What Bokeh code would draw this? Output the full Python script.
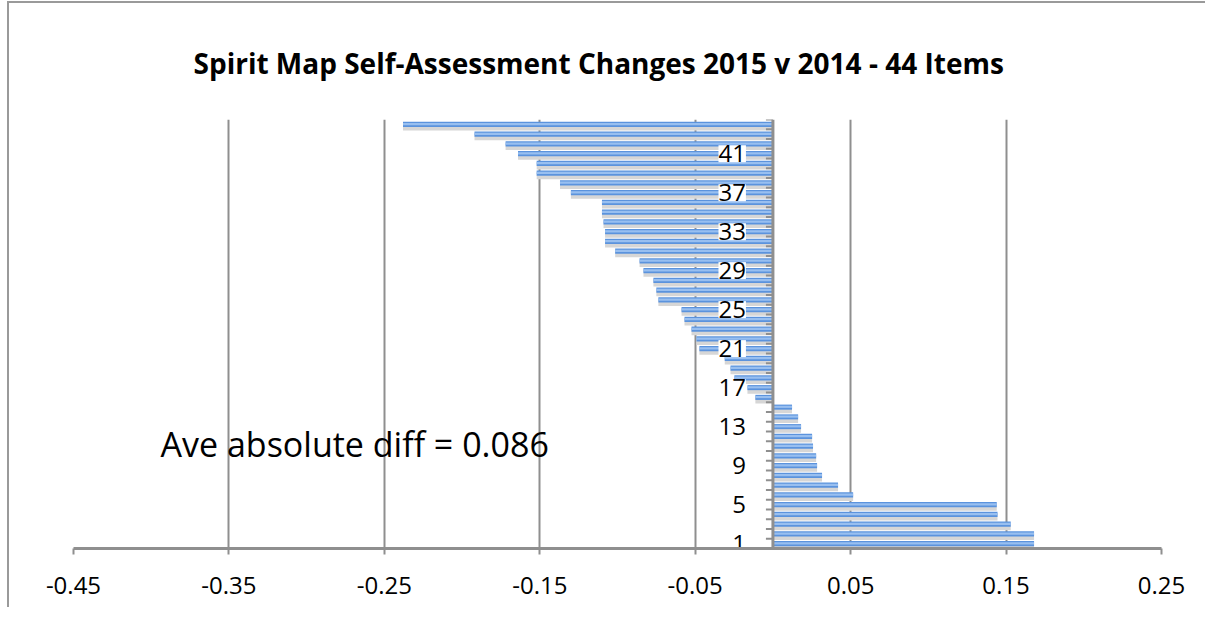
from bokeh.plotting import figure
from bokeh.models import Range1d, FixedTicker, NumeralTickFormatter, Span, Label, ColumnDataSource
from bokeh.transform import dodge
from bokeh.core.properties import value
from bokeh.embed import file_html
from bokeh.resources import INLINE

# ---- data ----
items = list(range(1, 45))
changes = [0.168, 0.168, 0.153, 0.1445, 0.144, 0.0516, 0.0419, 0.0316, 0.0284, 0.0278,
           0.0258, 0.0252, 0.0181, 0.0162, 0.0123, -0.0113, -0.0164, -0.0248, -0.0273, -0.031,
           -0.0473, -0.0492, -0.0524, -0.0569, -0.0588, -0.0737, -0.0750, -0.0769, -0.0833, -0.0858,
           -0.1015, -0.108, -0.108, -0.109, -0.110, -0.110, -0.130, -0.137, -0.152, -0.152,
           -0.164, -0.172, -0.192, -0.238]
x_ticks = [-0.45, -0.35, -0.25, -0.15, -0.05, 0.05, 0.15, 0.25]
y_label_items = [1, 5, 9, 13, 17, 21, 25, 29, 33, 37, 41]
title_text = "Spirit Map Self-Assessment Changes  2015 v 2014 - 44 Items"
note_text = "Ave absolute diff = 0.086"

X_MIN, X_MAX = x_ticks[0], x_ticks[-1]
FONT = "Open Sans"
GREY = "#8f8f8f"

W, H = 1198, 606
BL, BR, BT, BB = 64, 46, 115, 61
frame_w = W - BL - BR

p = figure(width=W, height=H, output_backend="svg", toolbar_location=None,
           x_range=Range1d(X_MIN, X_MAX), y_range=Range1d(items[0] - 0.5, items[-1] + 0.5),
           y_axis_location=None, min_border_left=BL, min_border_right=BR,
           min_border_top=BT, min_border_bottom=BB, outline_line_color=None,
           background_fill_color="white", border_fill_color="white")
p.styles = {"position": "absolute", "left": "7px", "top": "1px",
            "border-left": "2px solid #9a9a9a", "border-top": "2px solid #9a9a9a",
            "border-right": "0px none", "border-bottom": "0px none"}

p.title.text = title_text
p.title.text_font = FONT
p.title.text_font_size = "28px"
p.title.text_font_style = "bold"
p.title.text_color = "black"
p.title.align = "left"
p.title.offset = 120
p.title.standoff = 76

# grid
p.xgrid.ticker = FixedTicker(ticks=x_ticks)
p.xgrid.grid_line_color = GREY
p.xgrid.grid_line_width = 2
p.ygrid.grid_line_color = None

# x axis
ax = p.xaxis[0]
ax.ticker = FixedTicker(ticks=x_ticks)
ax.formatter = NumeralTickFormatter(format="0.00")
ax.axis_line_color = GREY
ax.axis_line_width = 3
ax.major_tick_line_color = GREY
ax.major_tick_line_width = 2
ax.major_tick_out = 6
ax.major_tick_in = 0
ax.minor_tick_line_color = None
ax.major_label_standoff = 22
ax.major_label_text_font = FONT
ax.major_label_text_font_size = "24px"
ax.major_label_text_color = "black"

src = ColumnDataSource(dict(item=items, change=changes, zero=[0] * len(items)))

# shadow
p.hbar(y=dodge("item", -0.32, range=p.y_range), left="zero", right="change", height=0.62,
       source=src, fill_color="#d6d6d6", line_color=None)
# bars
p.hbar(y="item", left="zero", right="change", height=0.52, source=src,
       fill_color="#5b93dd", line_color=None)
p.hbar(y=dodge("item", 0.03, range=p.y_range), left="zero", right="change", height=0.22, source=src,
       fill_color="#98bff0", line_color=None)

# vertical axis at zero
p.add_layout(Span(location=0, dimension="height", line_color=GREY, line_width=3))
tick_len = 7 * (X_MAX - X_MIN) / frame_w
bounds = [i - 0.5 for i in items] + [items[-1] + 0.5]
p.segment(x0=[-tick_len] * len(bounds), x1=[0] * len(bounds), y0=bounds, y1=bounds,
          line_color=GREY, line_width=2)

# category labels
p.text(x=[0] * len(y_label_items), y=y_label_items, text=[str(i) for i in y_label_items],
       x_offset=-27, text_align="right", text_baseline="middle",
       text_font=value(FONT), text_font_size="24px", text_color="black",
       background_fill_color="white")

p.add_layout(Label(x=-0.394, y=11.2, text=note_text, text_font=FONT, text_font_size="34px",
                   text_baseline="middle", text_align="left", text_color="black"))

open("out.html", "w").write(file_html(p, INLINE))
